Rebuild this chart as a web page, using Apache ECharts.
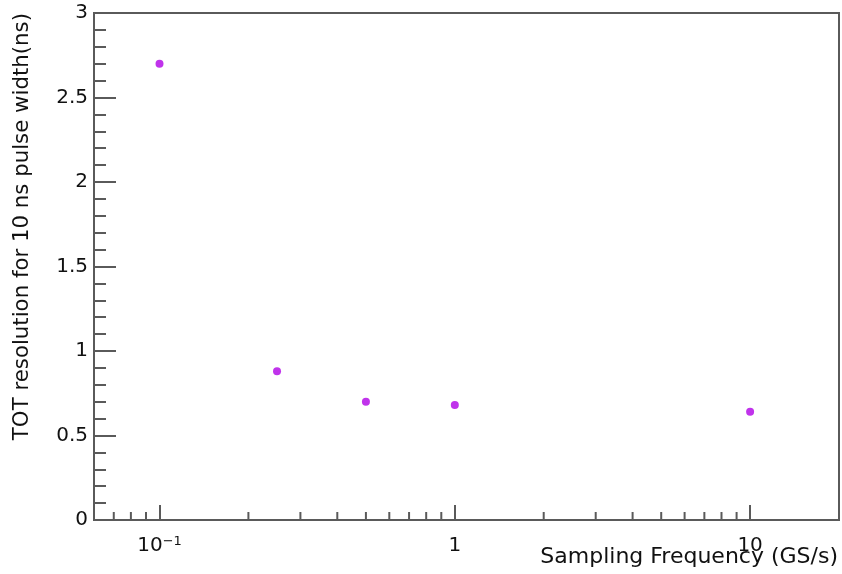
<!DOCTYPE html>
<html>
<head>
<meta charset="utf-8">
<script src="https://cdn.jsdelivr.net/npm/echarts@6/dist/echarts.min.js"></script>
<style>
  html, body { margin: 0; padding: 0; background: #fff; }
  #chart { width: 842px; height: 574px; }
</style>
</head>
<body>
<div id="chart"></div>
<script>
// Sampling frequency (GS/s) and the TOT resolution measured at each one
const samplingFreq = [0.1, 0.25, 0.5, 1, 10];
const totResolution = [2.70, 0.88, 0.70, 0.68, 0.64];

// Decade labels on the log axis (mantissa + exponent)
const decadeValues = [0.1, 1, 10];
const decadeBase = ['10', '1', '10'];
const decadeExp = ['\u22121', '', ''];

// Minor tick positions (2..9 within each decade) on the log axis
const minorTickValues = [0.07, 0.08, 0.09,
  0.2, 0.3, 0.4, 0.5, 0.6, 0.7, 0.8, 0.9,
  2, 3, 4, 5, 6, 7, 8, 9];

const FONT = 'DejaVu Sans';
const AXIS_COLOR = '#5a5a5a';
const TEXT_COLOR = '#111111';

const chart = echarts.init(document.getElementById('chart'), null, { renderer: 'canvas' });

chart.setOption({
  backgroundColor: '#ffffff',
  animation: false,
  grid: {
    left: 94, right: 3, top: 13, bottom: 54,
    show: true, borderColor: AXIS_COLOR, borderWidth: 2, backgroundColor: 'transparent'
  },
  xAxis: {
    type: 'log', logBase: 10, min: 0.06, max: 20,
    axisLine: { show: true, lineStyle: { color: AXIS_COLOR, width: 2 } },
    axisTick: { show: true, inside: true, length: 15, lineStyle: { color: AXIS_COLOR, width: 2 } },
    splitLine: { show: false },
    axisLabel: {
      showMinLabel: false, showMaxLabel: false,
      margin: 15, fontFamily: FONT, fontSize: 20, color: TEXT_COLOR,
      formatter: function (v) {
        for (let i = 0; i < decadeValues.length; i++) {
          if (Math.abs(Math.log10(v) - Math.log10(decadeValues[i])) < 1e-6) {
            return decadeExp[i] ? '{b|' + decadeBase[i] + '}{s|' + decadeExp[i] + '}' : '{b|' + decadeBase[i] + '}';
          }
        }
        return '';
      },
      rich: {
        b: { fontFamily: FONT, fontSize: 20, color: TEXT_COLOR, lineHeight: 22 },
        s: { fontFamily: FONT, fontSize: 13, color: TEXT_COLOR, verticalAlign: 'top', lineHeight: 22 }
      }
    }
  },
  yAxis: {
    type: 'value', min: 0, max: 3, interval: 0.5,
    axisLine: { show: true, lineStyle: { color: AXIS_COLOR, width: 2 } },
    axisTick: { show: true, inside: true, length: 22, lineStyle: { color: AXIS_COLOR, width: 2 } },
    minorTick: { show: true, splitNumber: 5, length: 12, lineStyle: { color: AXIS_COLOR, width: 2 } },
    splitLine: { show: false },
    axisLabel: { margin: 6, fontFamily: FONT, fontSize: 20, color: TEXT_COLOR }
  },
  graphic: [
    {
      type: 'text', x: 838, y: 557,
      style: {
        text: 'Sampling Frequency (GS/s)', fontFamily: FONT, fontSize: 22,
        fill: TEXT_COLOR, align: 'right', verticalAlign: 'middle'
      }
    },
    {
      type: 'text', x: 22, y: 13, rotation: Math.PI / 2,
      style: {
        text: 'TOT resolution for 10 ns pulse width(ns)', fontFamily: FONT, fontSize: 21.3,
        fill: TEXT_COLOR, align: 'right', verticalAlign: 'middle'
      }
    }
  ],
  series: [
    {
      // minor ticks along the log x axis
      type: 'custom',
      silent: true,
      data: minorTickValues.map(function (v) { return [v, 0]; }),
      renderItem: function (params, api) {
        const p = api.coord([api.value(0), 0]);
        return {
          type: 'line',
          shape: { x1: p[0], y1: p[1], x2: p[0], y2: p[1] - 8 },
          style: { stroke: AXIS_COLOR, lineWidth: 2 }
        };
      },
      z: 1
    },
    {
      type: 'scatter',
      data: samplingFreq.map(function (f, i) { return [f, totResolution[i]]; }),
      symbol: 'circle',
      symbolSize: 8,
      itemStyle: { color: '#b000e6' },
      z: 3
    }
  ]
});
</script>
</body>
</html>
